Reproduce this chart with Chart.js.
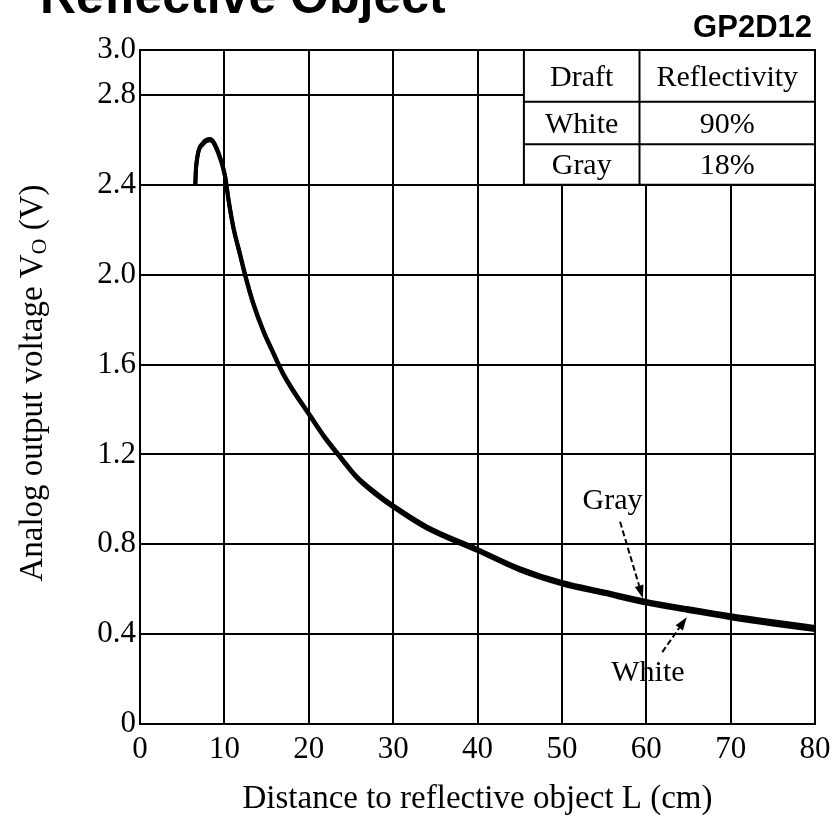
<!DOCTYPE html>
<html lang="en">
<head>
  <meta charset="UTF-8" />
  <title>GP2D12 - Analog output voltage vs. distance</title>
  <script src="https://cdn.jsdelivr.net/npm/chart.js"></script>
  <style>
    html, body { margin: 0; padding: 0; background: #fff; }
    #wrap { width: 834px; height: 819px; position: relative; }
  </style>
</head>
<body>
  <div id="wrap"><canvas id="chart"></canvas></div>

  <script>
    // values
    const distance = [6.55, 6.65, 7.5, 8.3, 9.3, 10.07, 10.5, 11.06, 11.85, 12.44, 13.43, 14.6, 15.8, 17.0, 18.2, 20.0, 21.7, 23.7, 25.7, 28.0, 30.2, 34.0, 40.0, 45.0, 50.0, 55.0, 60.0, 65.0, 70.0, 75.0, 80.0];
    const whiteV   = [2.40, 2.48, 2.582, 2.598, 2.538, 2.438, 2.328, 2.208, 2.088, 1.998, 1.868, 1.748, 1.648, 1.553, 1.478, 1.378, 1.283, 1.186, 1.095, 1.02, 0.96, 0.87, 0.77, 0.684, 0.622, 0.579, 0.536, 0.503, 0.471, 0.443, 0.418];
    const grayV    = [2.40, 2.48, 2.588, 2.604, 2.544, 2.444, 2.334, 2.214, 2.094, 2.004, 1.874, 1.754, 1.654, 1.559, 1.484, 1.384, 1.289, 1.193, 1.102, 1.028, 0.968, 0.879, 0.779, 0.694, 0.632, 0.59, 0.548, 0.515, 0.484, 0.457, 0.432];

    const xTicks = [0, 10, 20, 30, 40, 50, 60, 70, 80];
    const yTicks = [0, 0.4, 0.8, 1.2, 1.6, 2.0, 2.4, 2.8, 3.0];

    const tableHead = ['Draft', 'Reflectivity'];
    const tableRows = [['White', '90%'], ['Gray', '18%']];

    const serif = '"Liberation Serif", "Times New Roman", serif';
    const sans = '"Liberation Sans", Arial, sans-serif';

    function arrow(ctx, x1, y1, x2, y2) {
      const ang = Math.atan2(y2 - y1, x2 - x1);
      const len = 13, half = 4.5;
      const bx = x2 - len * Math.cos(ang), by = y2 - len * Math.sin(ang);
      ctx.save();
      ctx.setLineDash([6, 3]);
      ctx.lineWidth = 2;
      ctx.beginPath();
      ctx.moveTo(x1, y1);
      ctx.lineTo(bx, by);
      ctx.stroke();
      ctx.setLineDash([]);
      ctx.beginPath();
      ctx.moveTo(x2, y2);
      ctx.lineTo(bx + half * Math.sin(ang), by - half * Math.cos(ang));
      ctx.lineTo(bx - half * Math.sin(ang), by + half * Math.cos(ang));
      ctx.closePath();
      ctx.fill();
      ctx.restore();
    }

    const extras = {
      id: 'extras',
      afterDraw(chart) {
        const ctx = chart.ctx;
        const xs = chart.scales.x, ys = chart.scales.y;
        const px = v => xs.getPixelForValue(v);
        const py = v => ys.getPixelForValue(v);
        ctx.save();
        ctx.fillStyle = '#000';
        ctx.strokeStyle = '#000';

        // page title (cut at the top like the scan) and part number
        ctx.font = 'bold 50px ' + sans;
        ctx.textAlign = 'left';
        ctx.textBaseline = 'alphabetic';
        ctx.fillText('Reflective Object', 40, 13);
        ctx.font = 'bold 31px ' + sans;
        ctx.textAlign = 'right';
        ctx.fillText('GP2D12', 812, 37);

        // table in the top-right corner
        const cx = [px(45.5), px(59.2), chart.chartArea.right];
        const cy = [py(3.0), py(2.77), py(2.58), py(2.4)];
        ctx.fillStyle = '#fff';
        ctx.fillRect(cx[0], cy[0], cx[2] - cx[0], cy[3] - cy[0]);
        ctx.fillStyle = '#000';
        ctx.lineWidth = 2;
        ctx.beginPath();
        ctx.rect(cx[0], cy[0], cx[2] - cx[0], cy[3] - cy[0]);
        ctx.moveTo(cx[1], cy[0]); ctx.lineTo(cx[1], cy[3]);
        ctx.moveTo(cx[0], cy[1]); ctx.lineTo(cx[2], cy[1]);
        ctx.moveTo(cx[0], cy[2]); ctx.lineTo(cx[2], cy[2]);
        ctx.stroke();
        ctx.font = '30px ' + serif;
        ctx.textAlign = 'center';
        ctx.textBaseline = 'middle';
        const rows = [tableHead].concat(tableRows);
        rows.forEach((r, i) => {
          const my = (cy[i] + cy[i + 1]) / 2 + 2;
          ctx.fillText(r[0], (cx[0] + cx[1]) / 2, my);
          ctx.fillText(r[1], (cx[1] + cx[2]) / 2, my);
        });

        // curve labels
        ctx.fillText('Gray', px(56.0), py(0.99));
        arrow(ctx, px(56.9), py(0.90), px(59.6), py(0.56));
        ctx.fillText('White', px(60.2), py(0.225));
        arrow(ctx, px(61.9), py(0.32), px(64.8), py(0.475));

        // y axis title with subscript O
        const main1 = 'Analog output voltage V';
        const sub = 'O';
        const main2 = ' (V)';
        ctx.font = '33px ' + serif;
        const w1 = ctx.measureText(main1).width;
        const w3 = ctx.measureText(main2).width;
        ctx.font = '22px ' + serif;
        const w2 = ctx.measureText(sub).width;
        const total = w1 + w2 + w3;
        ctx.translate(42, 383);
        ctx.rotate(-Math.PI / 2);
        ctx.textAlign = 'left';
        ctx.textBaseline = 'alphabetic';
        let pos = -total / 2;
        ctx.font = '33px ' + serif;
        ctx.fillText(main1, pos, 0);
        pos += w1;
        ctx.font = '22px ' + serif;
        ctx.fillText(sub, pos, 4);
        pos += w2;
        ctx.font = '33px ' + serif;
        ctx.fillText(main2, pos, 0);
        ctx.restore();
      }
    };

    const toPoints = vals => vals.map((v, i) => ({ x: distance[i], y: v }));

    new Chart(document.getElementById('chart'), {
      type: 'line',
      data: {
        datasets: [
          {
            label: 'White',
            data: toPoints(whiteV),
            borderColor: '#000',
            borderWidth: 4,
            pointRadius: 0,
            cubicInterpolationMode: 'monotone'
          },
          {
            label: 'Gray',
            data: toPoints(grayV),
            borderColor: '#000',
            borderWidth: 4,
            pointRadius: 0,
            cubicInterpolationMode: 'monotone'
          }
        ]
      },
      options: {
        responsive: true,
        maintainAspectRatio: false,
        animation: false,
        layout: { padding: { top: 50, right: 19, left: 0, bottom: 0 } },
        plugins: {
          legend: { display: false },
          tooltip: { enabled: false }
        },
        scales: {
          x: {
            type: 'linear',
            min: 0,
            max: 80,
            afterBuildTicks: s => { s.ticks = xTicks.map(v => ({ value: v })); },
            afterFit: s => {
              s.height = 95;
              s.paddingLeft = 0;
              s.paddingRight = 0;
            },
            grid: { color: '#000', lineWidth: 2, drawTicks: false },
            border: { color: '#000', width: 2 },
            ticks: {
              color: '#000',
              padding: 7,
              maxRotation: 0,
              font: { family: serif, size: 31 }
            },
            title: {
              display: true,
              text: 'Distance to reflective object L (cm)',
              color: '#000',
              padding: { top: 0, bottom: 0 },
              font: { family: serif, size: 33 }
            }
          },
          y: {
            type: 'linear',
            min: 0,
            max: 3.0,
            afterBuildTicks: s => { s.ticks = yTicks.map(v => ({ value: v })); },
            afterFit: s => { s.width = 140; },
            grid: { color: '#000', lineWidth: 2, drawTicks: false },
            border: { color: '#000', width: 2 },
            ticks: {
              color: '#000',
              padding: 4,
              font: { family: serif, size: 31 },
              callback: v => (v === 0 ? '0' : v.toFixed(1))
            }
          }
        }
      },
      plugins: [extras]
    });
  </script>
</body>
</html>
